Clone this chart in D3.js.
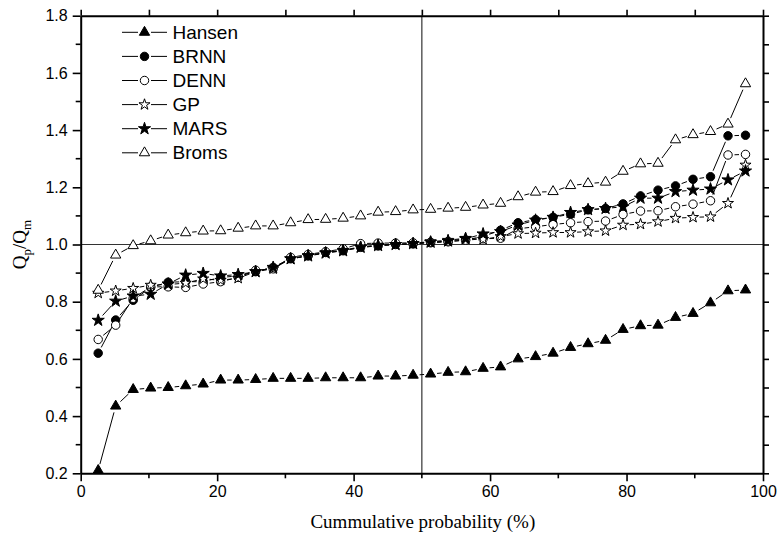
<!DOCTYPE html>
<html>
<head>
<meta charset="utf-8">
<script src="https://cdn.jsdelivr.net/npm/d3@7"></script>
<style>
  body { margin: 0; background: #fff; }
  svg { display: block; }
</style>
</head>
<body>
<div id="chart"></div>
<script>
// x positions: i/39*100, i = 1..38
const nPoints = 38;

const hansen = [0.21, 0.435, 0.493, 0.498, 0.50, 0.506, 0.512, 0.526, 0.526, 0.528,
  0.532, 0.532, 0.532, 0.534, 0.534, 0.534, 0.54, 0.54, 0.543, 0.547,
  0.553, 0.555, 0.567, 0.572, 0.60, 0.608, 0.62, 0.64, 0.653, 0.665,
  0.703, 0.716, 0.718, 0.745, 0.759, 0.796, 0.838, 0.841];

const brnn = [0.62, 0.736, 0.805, 0.85, 0.868, 0.87, 0.87, 0.885, 0.89, 0.905,
  0.92, 0.95, 0.96, 0.972, 0.978, 0.99, 0.995, 1.0, 1.002, 1.006,
  1.01, 1.016, 1.028, 1.05, 1.076, 1.087, 1.095, 1.106, 1.121, 1.126,
  1.142, 1.170, 1.190, 1.205, 1.228, 1.237, 1.380, 1.382];

const denn = [0.668, 0.718, 0.812, 0.852, 0.852, 0.85, 0.862, 0.87, 0.885, 0.91,
  0.915, 0.955, 0.965, 0.975, 0.985, 1.003, 1.005, 1.005, 1.006, 1.008,
  1.01, 1.015, 1.02, 1.022, 1.055, 1.062, 1.07, 1.076, 1.08, 1.082,
  1.105, 1.117, 1.118, 1.132, 1.141, 1.153, 1.313, 1.315];

const gp = [0.83, 0.838, 0.847, 0.858, 0.86, 0.865, 0.88, 0.875, 0.882, 0.905,
  0.915, 0.95, 0.962, 0.972, 0.98, 0.992, 0.998, 1.0, 1.004, 1.01,
  1.015, 1.022, 1.018, 1.028, 1.038, 1.04, 1.042, 1.042, 1.045, 1.048,
  1.068, 1.071, 1.08, 1.092, 1.095, 1.097, 1.144, 1.278];

const mars = [0.735, 0.802, 0.82, 0.826, 0.862, 0.893, 0.899, 0.89, 0.895, 0.905,
  0.92, 0.95, 0.96, 0.97, 0.978, 0.99, 0.996, 1.0, 1.003, 1.008,
  1.012, 1.02, 1.037, 1.045, 1.068, 1.085, 1.095, 1.112, 1.122, 1.126,
  1.132, 1.162, 1.162, 1.185, 1.190, 1.194, 1.226, 1.257];

const broms = [0.84, 0.963, 0.996, 1.013, 1.033, 1.041, 1.047, 1.048, 1.057, 1.065,
  1.065, 1.076, 1.087, 1.088, 1.092, 1.10, 1.113, 1.115, 1.121, 1.123,
  1.127, 1.130, 1.138, 1.144, 1.167, 1.183, 1.185, 1.206, 1.213, 1.218,
  1.256, 1.282, 1.284, 1.366, 1.384, 1.395, 1.421, 1.562];

const xTicks = [0, 20, 40, 60, 80, 100];
const yTicks = [0.2, 0.4, 0.6, 0.8, 1.0, 1.2, 1.4, 1.6, 1.8];

const series = [
  {name: 'Hansen', values: hansen, symbol: d3.symbolTriangle, size: 46, filled: true},
  {name: 'BRNN', values: brnn, symbol: d3.symbolCircle, size: 56, filled: true},
  {name: 'DENN', values: denn, symbol: d3.symbolCircle, size: 56, filled: false},
  {name: 'GP', values: gp, symbol: d3.symbolStar, size: 38, filled: false},
  {name: 'MARS', values: mars, symbol: d3.symbolStar, size: 46, filled: true},
  {name: 'Broms', values: broms, symbol: d3.symbolTriangle, size: 46, filled: false}
];

const W = 778, H = 536;
const margin = {left: 80.7, right: 15, top: 15.7, bottom: 62.7};

const svg = d3.select('#chart').append('svg')
  .attr('width', W)
  .attr('height', H);

const x = d3.scaleLinear().domain([0, 100]).range([margin.left, W - margin.right]);
const y = d3.scaleLinear().domain([0.2, 1.8]).range([H - margin.bottom, margin.top]);

// reference lines
svg.append('line')
  .attr('x1', x(0)).attr('x2', x(100))
  .attr('y1', y(1)).attr('y2', y(1))
  .attr('stroke', '#333').attr('stroke-width', 1.2);
svg.append('line')
  .attr('x1', x(50)).attr('x2', x(50))
  .attr('y1', y(0.2)).attr('y2', y(1.8))
  .attr('stroke', '#333').attr('stroke-width', 1.2);

// axes
const minorX = d3.range(10, 100, 20);
const minorY = d3.range(0.3, 1.8, 0.2);

const bottomAxis = svg.append('g')
  .attr('transform', `translate(0,${y(0.2)})`)
  .call(d3.axisBottom(x).tickValues(xTicks).tickSize(8).tickSizeOuter(0).tickPadding(4));
bottomAxis.append('g').selectAll('line')
  .data(minorX).join('line')
  .attr('x1', d => x(d)).attr('x2', d => x(d))
  .attr('y1', 0).attr('y2', 5)
  .attr('stroke', '#000').attr('stroke-width', 1.6);

const leftAxis = svg.append('g')
  .attr('transform', `translate(${x(0)},0)`)
  .call(d3.axisLeft(y).tickValues(yTicks).tickFormat(d3.format('.1f')).tickSize(8).tickSizeOuter(0).tickPadding(5));
leftAxis.append('g').selectAll('line')
  .data(minorY).join('line')
  .attr('y1', d => y(d)).attr('y2', d => y(d))
  .attr('x1', 0).attr('x2', -5)
  .attr('stroke', '#000').attr('stroke-width', 1.6);

svg.append('g')
  .attr('transform', `translate(0,${y(1.8)})`)
  .call(d3.axisBottom(x).tickValues(xTicks.concat(minorX)).tickSize(-6).tickSizeOuter(0).tickFormat(''));

svg.append('g')
  .attr('transform', `translate(${x(100)},0)`)
  .call(d3.axisLeft(y).tickValues(yTicks.concat(minorY)).tickSize(-6).tickSizeOuter(0).tickFormat(''));

svg.selectAll('.domain').attr('stroke', '#000').attr('stroke-width', 2);
svg.selectAll('.tick line').attr('stroke', '#000').attr('stroke-width', 1.6);
svg.selectAll('.tick text')
  .attr('font-family', 'Liberation Sans, Arial, sans-serif')
  .attr('font-size', 16)
  .attr('fill', '#000');

// axis titles
svg.append('text')
  .attr('x', (x(0) + x(100)) / 2 + 1)
  .attr('y', 528)
  .attr('text-anchor', 'middle')
  .attr('font-family', 'Liberation Serif, Times New Roman, serif')
  .attr('font-size', 19)
  .text('Cummulative probability (%)');

const yl = svg.append('text')
  .attr('transform', `translate(26,${y(1.0)}) rotate(-90)`)
  .attr('text-anchor', 'middle')
  .attr('font-family', 'Liberation Serif, Times New Roman, serif')
  .attr('font-size', 19);
yl.append('tspan').text('Q');
yl.append('tspan').attr('font-size', 13).attr('dy', 5).text('p');
yl.append('tspan').attr('dy', -5).text('/Q');
yl.append('tspan').attr('font-size', 13).attr('dy', 5).text('m');

// series: broken connecting lines, then markers
const gap = 6.5;
function segments(values) {
  const pts = values.map((v, i) => [x((i + 1) * 100 / 39), y(v)]);
  const segs = [];
  for (let i = 0; i < pts.length - 1; i++) {
    const [x0, y0] = pts[i], [x1, y1] = pts[i + 1];
    const len = Math.hypot(x1 - x0, y1 - y0);
    if (len <= 2 * gap) continue;
    const ux = (x1 - x0) / len, uy = (y1 - y0) / len;
    segs.push([x0 + ux * gap, y0 + uy * gap, x1 - ux * gap, y1 - uy * gap]);
  }
  return segs;
}

series.forEach(s => {
  svg.append('g').selectAll('line')
    .data(segments(s.values)).join('line')
    .attr('x1', d => d[0]).attr('y1', d => d[1])
    .attr('x2', d => d[2]).attr('y2', d => d[3])
    .attr('stroke', '#000').attr('stroke-width', 1);
});

series.forEach(s => {
  svg.append('g').selectAll('path')
    .data(s.values).join('path')
    .attr('transform', (d, i) => `translate(${x((i + 1) * 100 / 39)},${y(d)})`)
    .attr('d', d3.symbol(s.symbol, s.size))
    .attr('fill', s.filled ? '#000' : '#fff')
    .attr('stroke', '#000')
    .attr('stroke-width', 1);
});

// legend
const legend = svg.append('g');
series.forEach((s, i) => {
  const ly = 32.3 + i * 24.1;
  const g = legend.append('g').attr('transform', `translate(0,${ly})`);
  g.append('line').attr('x1', 122).attr('x2', 138).attr('stroke', '#000').attr('stroke-width', 1);
  g.append('line').attr('x1', 151).attr('x2', 167).attr('stroke', '#000').attr('stroke-width', 1);
  g.append('path')
    .attr('transform', 'translate(144.5,0)')
    .attr('d', d3.symbol(s.symbol, s.size))
    .attr('fill', s.filled ? '#000' : '#fff')
    .attr('stroke', '#000').attr('stroke-width', 1);
  g.append('text')
    .attr('x', 172.5)
    .attr('y', 6.5)
    .attr('font-family', 'Liberation Sans, Arial, sans-serif')
    .attr('font-size', 19)
    .text(s.name);
});
</script>
</body>
</html>
